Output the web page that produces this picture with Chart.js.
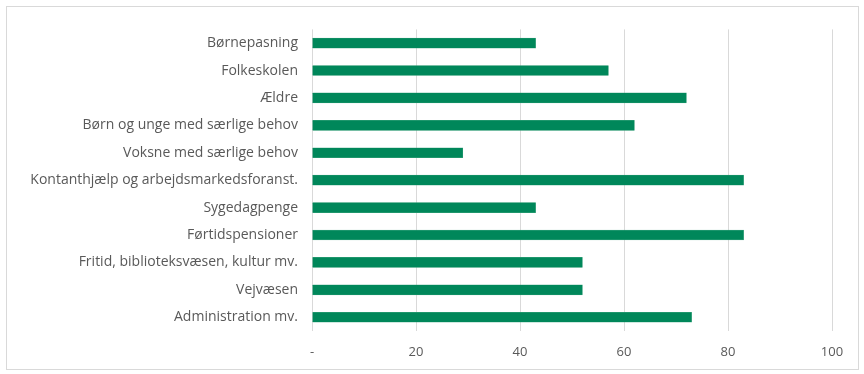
<!DOCTYPE html>
<html>
<head>
<meta charset="utf-8">
<script src="https://cdn.jsdelivr.net/npm/chart.js@4/dist/chart.umd.min.js"></script>
<style>
    html, body { margin: 0; padding: 0; background: #fff; }
    #frame {
        position: absolute;
        left: 6px; top: 6px;
        width: 851px; height: 362px;
        border: 1px solid #d9d9d9;
    }
</style>
</head>
<body>
<div id="frame"><canvas id="chart" width="851" height="362"></canvas></div>
<script>
const categories = [
    'Børnepasning',
    'Folkeskolen',
    'Ældre',
    'Børn og unge med særlige behov',
    'Voksne med særlige behov',
    'Kontanthjælp og arbejdsmarkedsforanst.',
    'Sygedagpenge',
    'Førtidspensioner',
    'Fritid, biblioteksvæsen, kultur mv.',
    'Vejvæsen',
    'Administration mv.'
];
const values = [43, 57, 72, 62, 29, 83, 43, 83, 52, 52, 73];
const xTickLabels = ['-', '20', '40', '60', '80', '100'];

const textColor = '#595959';
const gridColor = '#d9d9d9';
const barColor = '#00875a';

const ctx = document.getElementById('chart').getContext('2d');

new Chart(ctx, {
    type: 'bar',
    data: {
        labels: categories,
        datasets: [{
            data: values,
            backgroundColor: barColor,
            borderColor: '#3fa57f',
            borderWidth: 0.5,
            barThickness: 10
        }]
    },
    options: {
        indexAxis: 'y',
        responsive: false,
        animation: false,
        layout: {
            padding: { top: 21, right: 26, bottom: 0, left: 0 }
        },
        plugins: {
            legend: { display: false },
            tooltip: { enabled: false }
        },
        scales: {
            x: {
                min: 0,
                max: 100,
                ticks: {
                    stepSize: 20,
                    padding: 13,
                    color: textColor,
                    font: { family: "'Open Sans', sans-serif", size: 13 },
                    callback: (v, i) => xTickLabels[i]
                },
                grid: { color: gridColor, lineWidth: 1, drawTicks: false },
                border: { display: false },
                afterFit: (scale) => { scale.height = 38; }
            },
            y: {
                ticks: {
                    padding: 14,
                    color: textColor,
                    font: { family: "'Open Sans', sans-serif", size: 14 }
                },
                grid: { display: false, drawTicks: false },
                border: { display: false },
                afterFit: (scale) => { scale.width = 305; }
            }
        }
    }
});
</script>
</body>
</html>
